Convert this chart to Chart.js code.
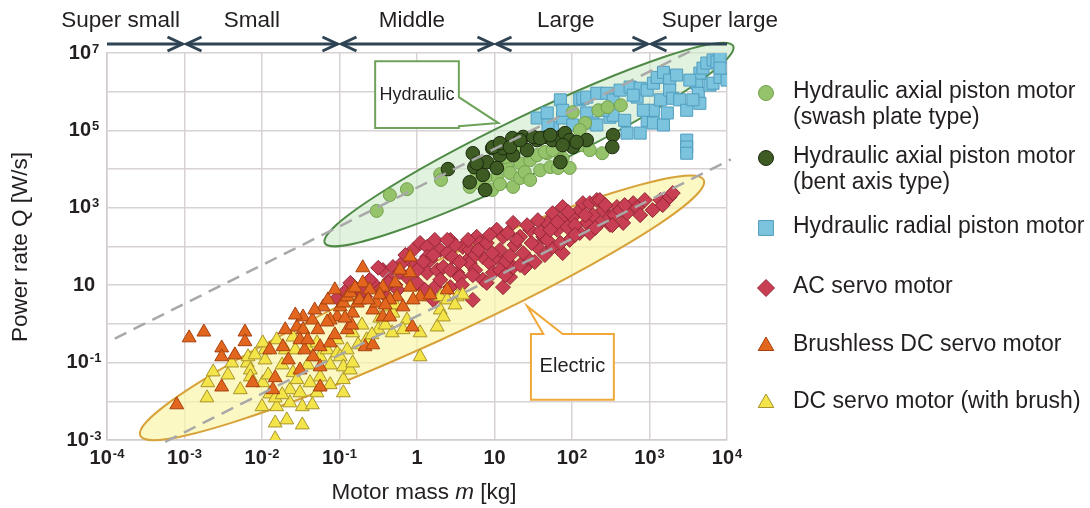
<!DOCTYPE html>
<html>
<head>
<meta charset="utf-8">
<script src="https://cdn.jsdelivr.net/npm/chart.js@4.4.1/dist/chart.umd.min.js"></script>
<style>
  html, body { margin: 0; padding: 0; background: #fff; }
  #wrap { width: 1090px; height: 508px; }
</style>
</head>
<body>
<div id="wrap"><canvas id="motorChart"></canvas></div>
<script>
// points as [log10 mass (kg), log10 power rate (W/s)]
const swashPlate = [
  [-0.52, 2.92], [-0.35, 3.33], [-0.13, 3.48], [0.30, 3.87], [0.31, 3.72], [0.68, 3.54], [0.77, 3.92],
  [0.81, 3.64], [0.97, 3.46], [1.03, 3.79], [1.07, 3.61], [1.16, 4.05], [1.20, 3.90], [1.24, 3.54],
  [1.33, 4.15], [1.33, 3.77], [1.46, 4.23], [1.59, 3.97], [1.68, 4.41], [1.72, 4.05], [1.82, 4.03],
  [1.97, 4.03], [1.55, 4.36], [1.65, 4.44], [1.75, 4.49], [1.88, 4.28], [2.14, 4.62], [2.39, 4.41],
  [2.17, 5.19], [2.01, 5.47], [2.34, 5.52], [2.46, 5.60], [2.63, 5.65], [2.10, 5.01], [1.39, 3.92],
  [1.26, 4.49], [1.46, 3.72], [1.14, 4.31], [1.01, 4.10], [0.88, 3.77], [1.85, 4.23], [2.23, 4.49]
];
const bentAxis = [
  [0.40, 4.00], [0.72, 4.41], [0.74, 4.05], [0.68, 3.66], [0.88, 3.46], [0.85, 3.85], [0.90, 4.18],
  [0.97, 4.54], [1.07, 4.36], [1.03, 4.03], [1.11, 4.54], [1.23, 4.80], [1.24, 4.36], [1.37, 4.83],
  [1.42, 4.49], [1.55, 4.75], [1.68, 4.83], [0.77, 4.15], [0.98, 4.57], [1.07, 4.67], [1.20, 4.57],
  [1.33, 4.75], [1.50, 4.83], [1.59, 4.80], [1.75, 4.75], [1.85, 4.83], [1.91, 4.93], [1.97, 4.75],
  [2.01, 4.57], [2.19, 4.75], [2.53, 4.88], [2.52, 4.57], [1.85, 4.18], [1.72, 4.88], [1.88, 4.62],
  [2.06, 4.70]
];
const radialPiston = [
  [1.55, 5.32], [1.68, 5.45], [1.75, 5.08], [1.85, 5.79], [1.88, 5.32], [1.88, 5.52], [2.01, 5.14],
  [2.10, 5.79], [2.14, 5.83], [2.19, 5.86], [2.19, 5.45], [2.27, 5.19], [2.32, 5.96], [2.32, 5.14],
  [2.45, 5.96], [2.49, 5.34], [2.53, 5.79], [2.53, 5.39], [2.62, 6.04], [2.71, 4.93], [2.75, 6.12],
  [2.84, 5.86], [2.88, 4.93], [2.88, 6.09], [2.97, 6.04], [2.97, 5.26], [3.05, 6.22], [3.05, 5.52],
  [3.05, 5.19], [3.10, 6.37], [3.14, 5.79], [3.18, 6.50], [3.18, 5.14], [3.23, 5.45], [3.26, 6.30],
  [3.26, 6.04], [3.30, 5.83], [3.35, 6.43], [3.39, 5.79], [3.48, 5.52], [3.61, 6.22], [3.63, 5.96],
  [3.65, 6.48], [3.65, 5.70], [3.69, 6.61], [3.74, 6.74], [3.78, 6.17], [3.82, 6.82], [3.82, 6.22],
  [3.87, 6.77], [3.91, 6.37], [4.00, 6.30], [3.91, 6.87], [3.48, 4.75], [3.48, 4.57], [3.48, 4.41],
  [2.40, 5.52], [2.79, 5.91], [3.52, 6.30], [3.56, 5.79], [3.91, 6.61], [2.92, 5.52], [2.68, 5.26],
  [1.69, 5.14]
];
const acServo = [
  [-1.03, 0.67], [-0.77, 0.88], [-0.67, 0.70], [-0.57, 1.06], [-0.44, 1.39], [-0.39, 0.70], [-0.31, 1.47],
  [-0.28, 1.01], [-0.18, 1.60], [-0.13, 1.21], [-0.05, 1.91], [0.00, 1.06], [0.04, 2.09], [0.13, 1.99],
  [0.13, 1.73], [0.13, 1.32], [0.17, 1.65], [0.21, 0.62], [0.26, 1.39], [0.30, 1.91], [0.34, 1.47],
  [0.39, 1.83], [0.43, 0.95], [0.46, 1.73], [0.52, 1.32], [0.55, 1.21], [0.59, 1.99], [0.65, 1.65],
  [0.68, 1.57], [0.72, 0.62], [0.77, 2.25], [0.81, 2.09], [0.85, 1.14], [0.85, 1.73], [0.90, 2.09],
  [0.90, 1.06], [0.94, 1.57], [0.98, 1.32], [1.03, 1.73], [1.03, 2.43], [1.11, 2.25], [1.11, 0.95],
  [1.20, 1.21], [1.24, 2.61], [1.24, 1.47], [1.33, 2.25], [1.37, 1.83], [1.46, 2.43], [1.55, 1.99],
  [1.63, 2.25], [1.68, 2.61], [1.75, 2.86], [1.75, 1.99], [1.81, 2.43], [1.87, 2.68], [1.88, 3.02],
  [1.88, 1.83], [1.94, 2.50], [1.97, 2.17], [2.01, 2.76], [2.10, 2.94], [2.10, 2.35], [2.14, 3.12],
  [2.19, 2.61], [2.23, 3.12], [2.32, 3.20], [2.40, 2.94], [2.49, 2.76], [2.58, 3.02], [2.66, 2.61],
  [2.71, 2.86], [2.79, 3.12], [3.04, 2.94], [3.14, 3.20], [3.26, 3.28], [3.30, 3.38],
  [0.43, 2.17], [0.68, 1.91], [1.07, 1.91], [1.14, 1.60], [1.46, 1.63], [1.59, 2.38], [1.26, 2.04],
  [0.55, 1.60], [0.75, 1.39], [1.65, 1.78], [1.39, 1.45], [0.23, 0.95], [1.07, 1.39], [2.36, 2.61],
  [2.23, 2.35], [2.49, 2.56], [2.84, 3.00], [0.23, 2.17], [0.49, 2.04], [0.75, 1.78], [1.29, 2.17],
  [1.48, 2.09], [1.68, 2.17], [1.81, 2.63], [2.04, 2.55], [2.27, 2.81], [2.55, 2.81], [2.62, 2.94],
  [2.36, 3.20], [-0.35, 1.14], [-0.22, 1.34], [-0.03, 1.52], [-0.48, 0.88], [-0.93, 0.83], [0.08, 1.60],
  [-0.86, 1.06], [-0.71, 0.83], [-0.61, 1.14], [-0.50, 1.45], [-0.37, 1.06], [-0.25, 0.88], [-0.15, 1.78],
  [0.00, 1.39], [0.10, 0.88], [0.21, 1.78], [0.30, 1.14], [0.39, 2.17], [0.43, 1.39], [0.58, 1.01],
  [0.66, 2.17], [0.72, 1.26], [0.79, 1.91], [0.94, 2.30], [0.97, 1.83], [1.14, 1.26], [1.17, 2.35],
  [1.20, 1.76], [1.33, 1.52], [1.42, 2.55], [1.52, 1.60], [1.56, 2.68], [1.72, 2.43], [1.85, 2.09],
  [1.95, 2.89], [2.04, 2.30], [2.17, 2.81], [2.30, 2.48], [2.43, 3.07], [2.52, 2.55], [2.68, 3.07],
  [2.88, 2.81], [2.94, 3.20], [3.17, 3.07]
];
const brushlessDC = [
  [-3.10, -2.09], [-2.94, -0.36], [-2.75, -0.21], [-2.52, -0.62], [-2.52, -0.85], [-2.52, -1.63],
  [-2.22, -0.21], [-2.22, -0.46], [-2.12, -1.52], [-1.86, -1.70], [-1.83, -1.39], [-1.73, -0.59],
  [-1.66, -0.93], [-1.55, -0.08], [-1.51, -1.19], [-1.47, 0.18], [-1.47, -0.15], [-1.45, -0.67],
  [-1.35, 0.10], [-1.34, -0.85], [-1.28, -0.15], [-1.25, -0.59], [-1.25, -1.11], [-1.25, -1.63],
  [-1.21, 0.44], [-1.15, 0.62], [-1.12, -0.49], [-1.03, 0.18], [-0.99, 0.44], [-0.95, 0.54],
  [-0.90, 0.70], [-0.90, -0.15], [-0.86, 0.80], [-0.83, 0.28], [-0.77, 0.54], [-0.74, 0.62],
  [-0.70, 1.45], [-0.70, 1.06], [-0.67, -0.59], [-0.61, 0.88], [-0.57, 0.36], [-0.57, -0.54],
  [-0.52, 0.54], [-0.44, 0.95], [-0.44, 0.18], [-0.35, 0.18], [-0.26, 0.70], [-0.18, 0.44],
  [-0.09, 1.73], [-0.09, 1.32], [-0.09, 0.95], [-0.06, -0.08], [0.04, 0.70], [0.39, 0.88],
  [-1.12, 0.10], [-0.84, -0.03], [-1.51, -0.41], [-1.06, 0.88], [-0.35, 0.62],
  [-1.57, 0.23], [-1.41, -0.41], [-1.32, 0.36], [-1.16, 0.05], [-1.06, -0.28], [-0.93, 0.15],
  [-0.80, 0.93], [-0.63, 0.62], [-0.48, 0.75], [-0.41, 0.49], [-0.28, 1.06], [-0.22, 1.39],
  [-0.05, 0.62], [0.17, 0.75], [-1.90, -0.67], [-2.35, -0.80], [-1.70, -0.15]
];
const dcServo = [
  [-2.71, -1.91], [-2.70, -1.52], [-2.63, -1.24], [-2.39, -1.01], [-2.19, -1.01], [-2.18, -0.85],
  [-2.15, -1.19], [-2.15, -1.37], [-1.99, -1.52], [-2.00, -2.14], [-1.96, -0.67], [-1.96, -0.93],
  [-1.99, -0.49], [-1.90, -1.81], [-1.83, -2.56], [-1.81, -2.14], [-1.83, -2.97], [-1.83, -1.91],
  [-1.81, -0.41], [-1.70, -0.67], [-1.68, -2.48], [-1.64, -2.04], [-1.64, -1.70], [-1.60, -1.26],
  [-1.60, -0.34], [-1.57, -0.67], [-1.51, -1.78], [-1.48, -2.14], [-1.48, -2.61], [-1.42, -0.59],
  [-1.38, -1.52], [-1.29, -1.78], [-1.29, -0.49], [-1.25, -1.37], [-1.25, -0.85], [-1.16, -0.67],
  [-1.03, -0.41], [-1.03, -0.75], [-0.99, -0.85], [-0.95, -1.44], [-0.95, -1.78], [-0.95, -1.11],
  [-0.90, -0.67], [-0.86, -1.19], [-0.83, -0.23], [-0.83, -1.01], [-0.65, -0.41], [-0.50, -0.15],
  [-0.48, 0.15], [-0.35, 0.44], [-0.32, -0.23], [-0.31, 0.28], [-0.28, 0.49], [-0.13, 0.10],
  [0.04, -0.23], [0.04, -0.85], [0.26, -0.08], [0.30, 0.36], [0.30, 0.70], [0.34, 0.18],
  [0.39, 0.62], [0.52, 0.70], [0.59, 0.75],
  [-2.44, -1.32], [-2.28, -1.70], [-2.09, -0.80], [-1.92, -1.32], [-1.74, -1.06], [-1.74, -1.83],
  [-1.55, -1.44], [-1.41, -1.06], [-1.35, -2.09], [-1.12, -1.06], [-1.12, -1.57], [-0.76, -0.54],
  [-0.71, -0.03], [-0.58, -0.28], [-0.41, -0.03], [-0.18, -0.15], [0.49, 0.49]
];

// dashed trend guides, same [log m, log Q] form
const upperGuide = [[-3.9, -0.38], [3.56, 7.08]];
const lowerGuide = [[-3.25, -3.05], [4.05, 4.25]];

const xTicks = [1e-4, 1e-3, 1e-2, 1e-1, 1, 10, 1e2, 1e3, 1e4];
const xTickLabels = ['10^-4', '10^-3', '10^-2', '10^-1', '1', '10', '10^2', '10^3', '10^4'];
const yTicks = [1e-3, 1e-2, 1e-1, 1, 10, 1e2, 1e3, 1e4, 1e5, 1e6, 1e7];
const yLabelValues = [1e7, 1e5, 1e3, 10, 1e-1, 1e-3];
const yTickLabels = ['10^7', '10^5', '10^3', '10', '10^-1', '10^-3'];

const sizeClassNames = ['Super small', 'Small', 'Middle', 'Large', 'Super large'];
const sizeClassBounds = [1e-4, 1e-3, 1e-1, 10, 1e3, 1e4];

const FONT = '"Liberation Sans", Arial, Helvetica, sans-serif';
const INK = '#231f20';

const toPoints = list => list.map(([a, b]) => ({ x: 10 ** a, y: 10 ** b }));

function markerSet(label, list, style, radius, fill, line, order) {
  return {
    label: label, data: toPoints(list), order: order,
    pointStyle: style, pointRadius: radius, pointHoverRadius: radius,
    backgroundColor: fill, borderColor: line, pointBorderWidth: 1
  };
}
function guideSet(list) {
  return {
    label: 'guide', isGuide: true, data: toPoints(list), order: 0, clip: false,
    showLine: true, pointRadius: 0, borderColor: '#a8a8a8', borderWidth: 2.5, borderDash: [13, 8]
  };
}

// annotation geometry, in log10 data units
const zones = [
  { ends: [[-1.19, 2.09], [4.08, 7.18]], half: 28.5, fill: 'rgba(206,234,202,0.62)', line: '#4f8a47' },
  { ends: [[-3.57, -2.89], [3.70, 3.72]], half: 37, fill: 'rgba(250,245,172,0.72)', line: '#d8a23a' }
];
const notes = [
  { text: 'Hydraulic', size: 18, line: '#6fa35a', box: [-0.54, 0.54, 6.79, 5.06],
    side: 'right', base: [5.86, 5.11], tip: [1.05, 5.19] },
  { text: 'Electric', size: 20, line: '#f0a83a', box: [1.47, 2.54, -0.26, -1.96],
    side: 'top', base: [1.63, 1.88], tip: [1.42, 0.46] }
];
const sizeLabelAt = [1.5e-4, 7.4e-3, 0.86, 83, 8100];

function drawPower(ctx, label, cx, cy) {
  const [base, exp] = label.split('^');
  ctx.font = 'bold 20px ' + FONT;
  const bw = ctx.measureText(base).width;
  ctx.font = 'bold 13px ' + FONT;
  const ew = exp ? ctx.measureText(exp).width + 1 : 0;
  const left = cx - (bw + ew) / 2;
  ctx.textAlign = 'left';
  ctx.textBaseline = 'middle';
  ctx.font = 'bold 20px ' + FONT;
  ctx.fillText(base, left, cy);
  if (exp) {
    ctx.font = 'bold 13px ' + FONT;
    ctx.fillText(exp, left + bw + 1, cy - 4);
  }
}

function chevron(ctx, x, y, dir) {
  ctx.beginPath();
  ctx.moveTo(x - dir * 15, y - 7);
  ctx.lineTo(x, y);
  ctx.lineTo(x - dir * 15, y + 7);
  ctx.stroke();
}

const overlay = {
  id: 'overlay',
  beforeDatasetsDraw(chart) {
    const ctx = chart.ctx, xs = chart.scales.x, ys = chart.scales.y;
    zones.forEach(z => {
      const [a, b] = z.ends.map(([m, q]) => [xs.getPixelForValue(10 ** m), ys.getPixelForValue(10 ** q)]);
      ctx.save();
      ctx.beginPath();
      ctx.ellipse((a[0] + b[0]) / 2, (a[1] + b[1]) / 2, Math.hypot(b[0] - a[0], b[1] - a[1]) / 2, z.half,
        Math.atan2(b[1] - a[1], b[0] - a[0]), 0, Math.PI * 2);
      ctx.fillStyle = z.fill;
      ctx.fill();
      ctx.lineWidth = 2;
      ctx.strokeStyle = z.line;
      ctx.stroke();
      ctx.restore();
    });
  },
  afterDraw(chart) {
    const ctx = chart.ctx, xs = chart.scales.x, ys = chart.scales.y;
    const px = e => xs.getPixelForValue(10 ** e), py = e => ys.getPixelForValue(10 ** e);
    ctx.save();
    ctx.fillStyle = INK;

    // tick labels
    xTicks.forEach((v, i) => drawPower(ctx, xTickLabels[i], xs.getPixelForValue(v), 458));
    yLabelValues.forEach((v, i) => drawPower(ctx, yTickLabels[i], 84, ys.getPixelForValue(v)));

    // axis titles
    ctx.font = '22.5px ' + FONT;
    ctx.textBaseline = 'middle';
    const t1 = 'Motor mass ', t3 = ' [kg]';
    const w1 = ctx.measureText(t1).width, w3 = ctx.measureText(t3).width;
    ctx.font = 'italic 22.5px ' + FONT;
    const w2 = ctx.measureText('m').width;
    let tx = 424 - (w1 + w2 + w3) / 2;
    ctx.textAlign = 'left';
    ctx.font = '22.5px ' + FONT;
    ctx.fillText(t1, tx, 493);
    ctx.font = 'italic 22.5px ' + FONT;
    ctx.fillText('m', tx + w1, 493);
    ctx.font = '22.5px ' + FONT;
    ctx.fillText(t3, tx + w1 + w2, 493);
    ctx.save();
    ctx.translate(21, 247);
    ctx.rotate(-Math.PI / 2);
    ctx.textAlign = 'center';
    ctx.fillText('Power rate Q [W/s]', 0, 0);
    ctx.restore();

    // size classes with arrows
    ctx.textAlign = 'center';
    sizeClassNames.forEach((name, i) => ctx.fillText(name, xs.getPixelForValue(sizeLabelAt[i]), 21));
    ctx.strokeStyle = '#2e4353';
    ctx.lineWidth = 3;
    const last = sizeClassNames.length - 1;
    sizeClassNames.forEach((name, i) => {
      const x1 = xs.getPixelForValue(sizeClassBounds[i]) + (i > 0 ? 2 : 0);
      const x2 = xs.getPixelForValue(sizeClassBounds[i + 1]) - (i < last ? 2 : 0);
      ctx.beginPath();
      ctx.moveTo(x1, 44);
      ctx.lineTo(x2, 44);
      ctx.stroke();
      if (i > 0) chevron(ctx, x1, 44, -1);
      if (i < last) chevron(ctx, x2, 44, 1);
    });

    // callouts
    notes.forEach(n => {
      const l = px(n.box[0]), r = px(n.box[1]), t = py(n.box[2]), b = py(n.box[3]);
      ctx.beginPath();
      ctx.moveTo(l, t);
      if (n.side === 'top') {
        ctx.lineTo(px(n.base[0]), t);
        ctx.lineTo(px(n.tip[0]), py(n.tip[1]));
        ctx.lineTo(px(n.base[1]), t);
        ctx.lineTo(r, t);
        ctx.lineTo(r, b);
      } else {
        ctx.lineTo(r, t);
        ctx.lineTo(r, py(n.base[0]));
        ctx.lineTo(px(n.tip[0]), py(n.tip[1]));
        ctx.lineTo(r, py(n.base[1]));
        ctx.lineTo(r, b);
      }
      ctx.lineTo(l, b);
      ctx.closePath();
      ctx.fillStyle = '#fff';
      ctx.fill();
      ctx.lineWidth = 2;
      ctx.strokeStyle = n.line;
      ctx.stroke();
      ctx.fillStyle = INK;
      ctx.font = n.size + 'px ' + FONT;
      ctx.textAlign = 'center';
      ctx.fillText(n.text, (l + r) / 2, (t + b) / 2);
    });

    // legend
    const rowsY = [93, 158, 228, 288, 346, 403];
    const legendSize = { circle: 7.5, rect: 10.5, rectRot: 8.5, triangle: 9 };
    chart.data.datasets.filter(d => !d.isGuide).forEach((d, i) => {
      ctx.fillStyle = d.backgroundColor;
      ctx.strokeStyle = d.borderColor;
      ctx.lineWidth = 1;
      Chart.helpers.drawPoint(ctx, { pointStyle: d.pointStyle, radius: legendSize[d.pointStyle], rotation: 0, borderWidth: 1 }, 766, rowsY[i]);
      ctx.fillStyle = INK;
      ctx.font = '23px ' + FONT;
      ctx.textAlign = 'left';
      d.label.split('\n').forEach((line, k) => ctx.fillText(line, 793, rowsY[i] - 1 + k * 26));
    });
    ctx.restore();
  }
};

new Chart(document.getElementById('motorChart'), {
  type: 'scatter',
  data: {
    datasets: [
      markerSet('Hydraulic axial piston motor\n(swash plate type)', swashPlate, 'circle', 6.5, '#95c36b', '#72a04c', 2),
      markerSet('Hydraulic axial piston motor\n(bent axis type)', bentAxis, 'circle', 6.8, '#3d5b23', '#1c2a10', 1),
      markerSet('Hydraulic radial piston motor', radialPiston, 'rect', 8.5, '#7cc3dd', '#4f9dbf', 3),
      markerSet('AC servo motor', acServo, 'rectRot', 7.5, '#c83e52', '#922636', 6),
      markerSet('Brushless DC servo motor', brushlessDC, 'triangle', 8, '#e3661f', '#a4410f', 4),
      markerSet('DC servo motor (with brush)', dcServo, 'triangle', 8, '#f3e44a', '#a8932a', 5),
      guideSet(upperGuide),
      guideSet(lowerGuide)
    ]
  },
  options: {
    responsive: true,
    maintainAspectRatio: false,
    animation: false,
    events: [],
    layout: { padding: { left: 107, right: 363, top: 53, bottom: 68 } },
    plugins: { legend: { display: false }, tooltip: { enabled: false } },
    scales: {
      x: {
        type: 'logarithmic', min: 1e-4, max: 1e4,
        afterBuildTicks: s => { s.ticks = xTicks.map(v => ({ value: v })); },
        ticks: { display: false },
        grid: { color: '#d8d2d2', lineWidth: 1.5, drawTicks: false },
        border: { color: '#d2cccc', width: 1.5 }
      },
      y: {
        type: 'logarithmic', min: 1e-3, max: 1e7,
        afterBuildTicks: s => { s.ticks = yTicks.map(v => ({ value: v })); },
        ticks: { display: false },
        grid: { color: '#d8d2d2', lineWidth: 1.5, drawTicks: false },
        border: { color: '#d2cccc', width: 1.5 }
      }
    }
  },
  plugins: [overlay]
});
</script>
</body>
</html>
